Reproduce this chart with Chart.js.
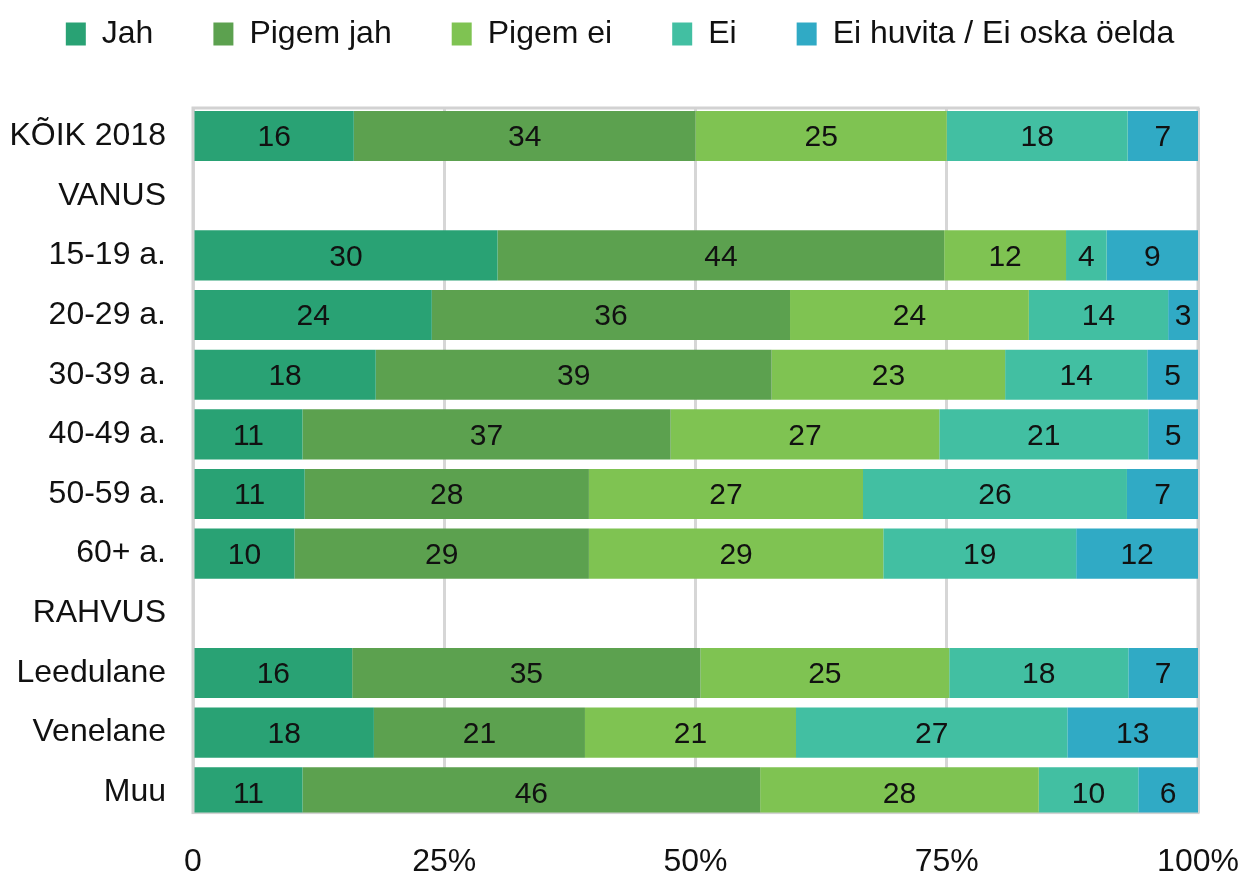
<!DOCTYPE html>
<html>
<head>
<meta charset="utf-8">
<script src="https://cdn.jsdelivr.net/npm/chart.js@4.4.1/dist/chart.umd.min.js"></script>
<style>
    html, body { margin: 0; padding: 0; background: #fff; }
    #wrap { width: 1240px; height: 877px; }
</style>
</head>
<body>
<div id="wrap"><canvas id="chart" width="1240" height="877"></canvas></div>
<script>
const categories = ['KÕIK 2018', 'VANUS', '15-19 a.', '20-29 a.', '30-39 a.', '40-49 a.', '50-59 a.', '60+ a.', 'RAHVUS', 'Leedulane', 'Venelane', 'Muu'];
const seriesNames = ['Jah', 'Pigem jah', 'Pigem ei', 'Ei', 'Ei huvita / Ei oska öelda'];

const jah      = [16, null, 30, 24, 18, 11, 11, 10, null, 16, 18, 11];
const pigemJah = [34, null, 44, 36, 39, 37, 28, 29, null, 35, 21, 46];
const pigemEi  = [25, null, 12, 24, 23, 27, 27, 29, null, 25, 21, 28];
const ei       = [18, null, 4, 14, 14, 21, 26, 19, null, 18, 27, 10];
const eiHuvita = [7, null, 9, 3, 5, 5, 7, 12, null, 7, 13, 6];

const xTickLabels = ['0', '25%', '50%', '75%', '100%'];
const colors = ['#29a274', '#5ca14f', '#7fc352', '#42bfa2', '#30aac5'];

const FONT = "'Liberation Sans', Arial, Helvetica, sans-serif";

const allSeries = [jah, pigemJah, pigemEi, ei, eiHuvita];

// every row is drawn as 100%, labels keep the raw numbers
const rowTotals = categories.map((c, i) => allSeries.reduce((s, arr) => s + (arr[i] || 0), 0));

const datasets = allSeries.map((arr, k) => ({
    label: seriesNames[k],
    data: arr.map((v, i) => v == null ? null : v / rowTotals[i] * 100),
    raw: arr,
    backgroundColor: colors[k],
    borderWidth: 0,
    barPercentage: 0.84,
    categoryPercentage: 1
}));

const framePlugin = {
    id: 'frame',
    beforeDatasetsDraw(chart) {
        const { ctx, chartArea: a } = chart;
        ctx.save();
        ctx.strokeStyle = '#d2d2d2';
        ctx.lineWidth = 3;
        ctx.strokeRect(a.left, a.top, a.right - a.left, a.bottom - a.top);
        ctx.restore();
    }
};

const valueLabels = {
    id: 'valueLabels',
    afterDatasetsDraw(chart) {
        const { ctx } = chart;
        ctx.save();
        ctx.font = `30px ${FONT}`;
        ctx.fillStyle = '#111';
        ctx.textAlign = 'center';
        ctx.textBaseline = 'middle';
        chart.data.datasets.forEach((ds, k) => {
            const meta = chart.getDatasetMeta(k);
            meta.data.forEach((bar, i) => {
                const v = ds.raw[i];
                if (v == null) return;
                ctx.fillText(String(v), (bar.x + bar.base) / 2, bar.y + 2);
            });
        });
        ctx.restore();
    }
};

new Chart(document.getElementById('chart'), {
    type: 'bar',
    data: { labels: categories, datasets },
    options: {
        indexAxis: 'y',
        responsive: false,
        animation: false,
        layout: { padding: { left: 0, right: 0, top: -42, bottom: -34 } },
        plugins: {
            legend: {
                position: 'top',
                labels: {
                    boxWidth: 20,
                    boxHeight: 23,
                    padding: 60,
                    color: '#111',
                    font: { family: FONT, size: 32 }
                }
            },
            tooltip: { enabled: false }
        },
        scales: {
            x: {
                stacked: true,
                min: 0,
                max: 100,
                ticks: {
                    stepSize: 25,
                    padding: 30,
                    color: '#111',
                    font: { family: FONT, size: 32 },
                    callback: (v, i) => xTickLabels[i]
                },
                grid: { color: '#d6d6d6', lineWidth: 3, drawTicks: false },
                border: { display: false },
                afterFit: s => { s.paddingLeft = 0; s.paddingRight = 42; }
            },
            xTop: {
                position: 'top',
                axis: 'x',
                display: true,
                ticks: { display: false },
                grid: { display: false, drawTicks: false },
                border: { display: false },
                afterFit: s => { s.height = 48; }
            },
            y: {
                stacked: true,
                ticks: {
                    padding: 27,
                    color: '#111',
                    font: { family: FONT, size: 32 }
                },
                grid: { display: false, drawTicks: false },
                border: { display: false },
                afterFit: s => {
                    s.width = 193;
                    // rows sit a bit tighter to the top; the last bar runs into the frame
                    s._startValue = -0.47;
                    s._valueRange = 11.81;
                }
            }
        }
    },
    plugins: [framePlugin, valueLabels]
});
</script>
</body>
</html>
